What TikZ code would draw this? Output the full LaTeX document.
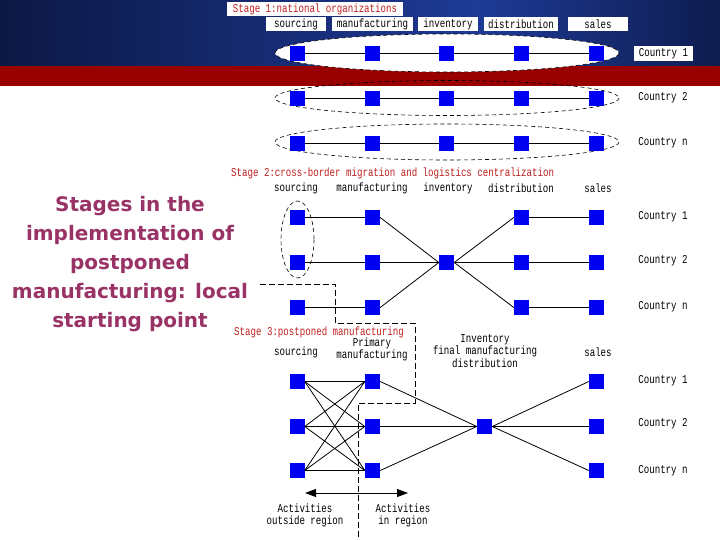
\documentclass[tikz,border=0pt]{standalone}
\usepackage{fontspec}
\usetikzlibrary{arrows.meta}
\newfontfamily\diagfont[FakeStretch=0.76]{Liberation Mono}
\newfontfamily\titlefont{DejaVu Sans}
\definecolor{navyL}{RGB}{12,24,68}
\definecolor{navyM}{RGB}{30,58,150}
\definecolor{navyR}{RGB}{14,28,78}
\definecolor{bandred}{RGB}{153,0,0}
\definecolor{sqblue}{RGB}{0,0,240}
\definecolor{stagered}{RGB}{190,30,30}
\definecolor{titlecol}{RGB}{153,51,102}
\tikzset{
  sq/.style={fill=sqblue, draw=none, minimum size=15pt, inner sep=0pt},
  lbl/.style={font=\diagfont\fontsize{12}{12.5}\selectfont, inner sep=1pt, align=center},
  hdrbox/.style={lbl, fill=white, minimum height=14pt},
  stagelbl/.style={lbl, text=stagered, anchor=west},
  conn/.style={line width=0.8pt, black},
  dell/.style={draw=black, dash pattern=on 4pt off 3pt, line width=0.6pt},
}
\begin{document}
\begin{tikzpicture}[x=1pt,y=-1pt]
\useasboundingbox (0,0) rectangle (720,540);
% background
\shade[left color=navyL, right color=navyM] (0,0) rectangle (480,66);
\shade[left color=navyM, right color=navyR] (480,0) rectangle (720,66);
\fill[bandred] (0,66) rectangle (720,86);

% title
\node[font=\titlefont\bfseries\fontsize{20}{28.8}\selectfont, text=titlecol, align=center] (title) at (130,264) {Stages in the\\implementation of\\postponed\\manufacturing: local\\starting point};

% ---------- Stage 1 ----------
\node[hdrbox, text=stagered, minimum width=176pt] (st1) at (315,9) {Stage 1:national organizations};
\node[hdrbox, minimum width=60pt] (h1) at (296,24) {sourcing};
\node[hdrbox, minimum width=81pt] (h2) at (372.5,24) {manufacturing};
\node[hdrbox, minimum width=60pt] (h3) at (448,24) {inventory};
\node[hdrbox, minimum width=74pt] (h4) at (521,24) {distribution};
\node[hdrbox, minimum width=60pt] (h5) at (598,24) {sales};

\draw[dell, fill=white] (447,53) ellipse (172 and 19);
\draw[dell] (447,98) ellipse (172 and 17.5);
\draw[dell] (447,142) ellipse (172 and 18);

\foreach \r/\y in {1/53.5,2/98.5,3/143.5}{
  \node[sq] (a\r c1) at (297,\y) {};
  \node[sq] (a\r c2) at (372.5,\y) {};
  \node[sq] (a\r c3) at (446.5,\y) {};
  \node[sq] (a\r c4) at (521.5,\y) {};
  \node[sq] (a\r c5) at (596.5,\y) {};
  \draw[conn, line width=1pt] (a\r c1) -- (a\r c2) -- (a\r c3) -- (a\r c4) -- (a\r c5);
}
\node[hdrbox, minimum width=59pt, minimum height=15pt] (k1) at (663.5,53.5) {Country 1};
\node[lbl] (k2) at (663,98) {Country 2};
\node[lbl] (k3) at (663,143) {Country n};

% ---------- Stage 2 ----------
\node[stagelbl] (st2) at (230,173) {Stage 2:cross-border migration and logistics centralization};
\node[lbl] (g1) at (296,188) {sourcing};
\node[lbl] (g2) at (372,188) {manufacturing};
\node[lbl] (g3) at (448,188) {inventory};
\node[lbl] (g4) at (521,188) {distribution};
\node[lbl] (g5) at (598,188) {sales};

\node[sq] (b1c1) at (297,217.5) {};
\node[sq] (b1c2) at (372.5,217.5) {};
\node[sq] (b1c4) at (521.5,217.5) {};
\node[sq] (b1c5) at (596.5,217.5) {};
\node[sq] (b2c1) at (297,262.5) {};
\node[sq] (b2c2) at (372.5,262.5) {};
\node[sq] (b2c3) at (446.5,262.5) {};
\node[sq] (b2c4) at (521.5,262.5) {};
\node[sq] (b2c5) at (596.5,262.5) {};
\node[sq] (b3c1) at (297,307.5) {};
\node[sq] (b3c2) at (372.5,307.5) {};
\node[sq] (b3c4) at (521.5,307.5) {};
\node[sq] (b3c5) at (596.5,307.5) {};

\draw[dell] (297.5,239.5) ellipse (16.5 and 38.5);

\draw[conn] (b1c1) -- (b1c2);
\draw[conn] (b1c2.east) -- (b2c3.west);
\draw[conn] (b2c3.east) -- (b1c4.west);
\draw[conn] (b1c4) -- (b1c5);
\draw[conn] (b2c1) -- (b2c2) -- (b2c3) -- (b2c4) -- (b2c5);
\draw[conn, line width=1.2pt] (b3c1) -- (b3c2);
\draw[conn] (b3c2.east) -- (b2c3.west);
\draw[conn] (b2c3.east) -- (b3c4.west);
\draw[conn, line width=1.2pt] (b3c4) -- (b3c5);

\node[lbl] (m1) at (663,217) {Country 1};
\node[lbl] (m2) at (663,261) {Country 2};
\node[lbl] (m3) at (663,307) {Country n};

% dashed region boundary
\coordinate (d1) at (260,284);
\coordinate (d2) at (335,284);
\coordinate (d3) at (335,323);
\coordinate (d4) at (415,323);
\coordinate (d5) at (415,403);
\coordinate (d6) at (358,403);
\coordinate (d7) at (358,540);
\draw[line width=0.9pt, dash pattern=on 6pt off 3pt] (d1) -- (d2) -- (d3) -- (d4) -- (d5) -- (d6) -- (d7);

% ---------- Stage 3 ----------
\node[stagelbl] (st3) at (233,332) {Stage 3:postponed manufacturing};
\node[lbl] (q1) at (296,352) {sourcing};
\node[lbl] (q2) at (372,349.5) {Primary\\manufacturing};
\node[lbl] (q3) at (485,351) {Inventory\\final manufacturing\\distribution};
\node[lbl] (q5) at (598,352) {sales};

\foreach \r/\y in {1/381.5,2/426.5,3/470.5}{
  \node[sq] (s\r) at (297,\y) {};
  \node[sq] (p\r) at (372.5,\y) {};
  \node[sq] (z\r) at (596.5,\y) {};
}
\node[sq] (inv) at (484.5,426.5) {};

\foreach \i in {1,2,3}{
  \foreach \j in {1,2,3}{
    \draw[conn] (s\i.east) -- (p\j.west);
  }
  \draw[conn] (p\i.east) -- (inv.west);
  \draw[conn] (inv.east) -- (z\i.west);
}
\draw[conn, line width=1.4pt] (s3.east) -- (p3.west);

\node[lbl] (n1) at (663,381) {Country 1};
\node[lbl] (n2) at (663,424) {Country 2};
\node[lbl] (n3) at (663,471) {Country n};

\coordinate (al) at (305,493);
\coordinate (ar) at (408,493);
\draw[line width=0.9pt, {Triangle[length=11pt,width=8pt]}-{Triangle[length=11pt,width=8pt]}] (al) -- (ar);
\node[lbl] (o1) at (305,515.5) {Activities\\outside region};
\node[lbl] (o2) at (403,515.5) {Activities\\in region};
\end{tikzpicture}
\end{document}
